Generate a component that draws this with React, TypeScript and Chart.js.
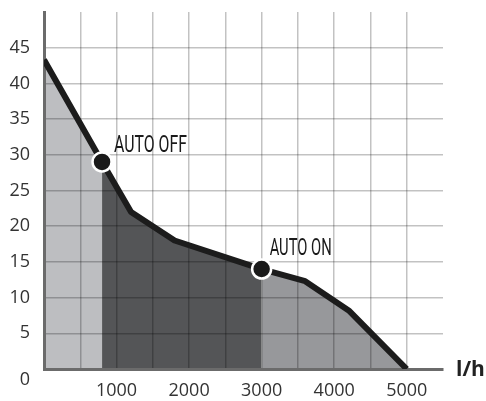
import React, { useEffect, useRef } from 'react';
import { Chart, registerables } from 'chart.js';

Chart.register(...registerables);

// ---- data ----
const flowValues = [0, 800, 1200, 1800, 3000, 3600, 4200, 5000];
const headValues = [43.3, 29, 22, 18, 14, 12.3, 8.2, 0];
const autoOffIndex = 1;
const autoOnIndex = 4;
const markerLabels = ['AUTO OFF', 'AUTO ON'];
const xTickLabels = [1000, 2000, 3000, 4000, 5000];
const yTickLabels = [5, 10, 15, 20, 25, 30, 35, 40, 45];
const zeroLabel = '0';
const xUnit = 'l/h';

const pts = flowValues.map((x, i) => ({ x, y: headValues[i] }));
const zoneLight = pts.slice(0, autoOffIndex + 1);
const zoneDark = pts.slice(autoOffIndex, autoOnIndex + 1);
const zoneMid = pts.slice(autoOnIndex);
const markers = [pts[autoOffIndex], pts[autoOnIndex]];

const TICK_FONT = { family: "'Open Sans', sans-serif", size: 18, weight: 400 as any };
const TICK_COLOR = '#333333';
const GRID = 'rgba(0,0,0,0.24)';

const labelOffsets = [
  { dx: 12, dy: -10, w: 73 },
  { dx: 8, dy: -14, w: 62 },
];

const overlayPlugin = {
  id: 'overlay',
  afterDraw(chart: any) {
    const ctx = chart.ctx;
    const xs = chart.scales.x;
    const ys = chart.scales.y;
    markers.forEach((m, i) => {
      const px = xs.getPixelForValue(m.x);
      const py = ys.getPixelForValue(m.y);
      const o = labelOffsets[i];
      ctx.save();
      ctx.font = "400 24px Roboto, sans-serif";
      const w = ctx.measureText(markerLabels[i]).width;
      ctx.translate(px + o.dx, py + o.dy);
      ctx.scale(o.w / w, 1);
      ctx.textAlign = 'left';
      ctx.textBaseline = 'alphabetic';
      ctx.fillStyle = '#1a1a1a';
      ctx.fillText(markerLabels[i], 0, 0);
      ctx.restore();
    });
    ctx.save();
    ctx.font = "400 18px 'Open Sans', sans-serif";
    ctx.fillStyle = TICK_COLOR;
    ctx.textAlign = 'right';
    ctx.textBaseline = 'middle';
    ctx.fillText(zeroLabel, ys.right - 14, ys.getPixelForValue(0) + 11);
    ctx.restore();
    ctx.save();
    ctx.font = "700 21px 'Open Sans', sans-serif";
    ctx.fillStyle = '#222222';
    ctx.textAlign = 'left';
    ctx.textBaseline = 'alphabetic';
    ctx.fillText(xUnit, xs.right + 13, ys.getPixelForValue(0) + 7);
    ctx.restore();
  },
};

export default function App() {
  const ref = useRef<HTMLCanvasElement | null>(null);
  useEffect(() => {
    if (!ref.current) return;
    const chart = new Chart(ref.current, {
      type: 'line',
      data: {
        datasets: [
          {
            data: markers,
            showLine: false,
            pointRadius: 9.5,
            pointBackgroundColor: '#1a1a1a',
            pointBorderColor: '#ffffff',
            pointBorderWidth: 2.5,
            order: 0,
            fill: false,
          } as any,
          {
            data: pts,
            borderColor: '#1c1c1c',
            borderWidth: 6,
            pointRadius: 0,
            fill: false,
            borderJoinStyle: 'round',
            order: 1,
          },
          { data: zoneLight, backgroundColor: '#bdbec1', borderWidth: 0, pointRadius: 0, fill: 'origin', order: 2 },
          { data: zoneDark, backgroundColor: '#545557', borderWidth: 0, pointRadius: 0, fill: 'origin', order: 2 },
          { data: zoneMid, backgroundColor: '#97989b', borderWidth: 0, pointRadius: 0, fill: 'origin', order: 2 },
        ],
      },
      options: {
        animation: false,
        responsive: true,
        maintainAspectRatio: false,
        layout: { padding: { top: 7, right: 43, left: 0, bottom: 0 } },
        plugins: {
          legend: { display: false },
          tooltip: { enabled: false },
          filler: { drawTime: 'beforeDraw' } as any,
        },
        scales: {
          x: {
            type: 'linear',
            min: 0,
            max: 5500,
            afterFit: (s: any) => { s.height = 32; s.paddingLeft = 0; s.paddingRight = 0; },
            ticks: {
              stepSize: 500,
              autoSkip: false,
              maxRotation: 0,
              padding: 11,
              font: TICK_FONT,
              color: TICK_COLOR,
              callback: (v: any) => (xTickLabels.includes(Number(v)) ? String(v) : ''),
            },
            grid: {
              drawTicks: false,
              lineWidth: 1.5,
              color: (c: any) => (c.tick && (c.tick.value === 0 || c.tick.value === 5500) ? 'rgba(0,0,0,0)' : GRID),
            },
            border: { color: '#6b6b6b', width: 3 },
          },
          y: {
            type: 'linear',
            min: 0,
            max: 50,
            afterFit: (s: any) => { s.width = 44; s.paddingTop = 0; s.paddingBottom = 0; },
            ticks: {
              stepSize: 5,
              padding: 14,
              font: TICK_FONT,
              color: TICK_COLOR,
              callback: (v: any) => (yTickLabels.includes(Number(v)) ? String(v) : ''),
            },
            grid: {
              drawTicks: false,
              lineWidth: 1.5,
              color: (c: any) => (c.tick && (c.tick.value === 0 || c.tick.value === 50) ? 'rgba(0,0,0,0)' : GRID),
            },
            border: { color: '#6b6b6b', width: 3 },
          },
        },
      },
      plugins: [overlayPlugin],
    });
    return () => chart.destroy();
  }, []);
  return (
    <div style={{ position: 'absolute', left: 0, top: 0, width: 486, height: 401 }}>
      <canvas ref={ref} />
    </div>
  );
}
